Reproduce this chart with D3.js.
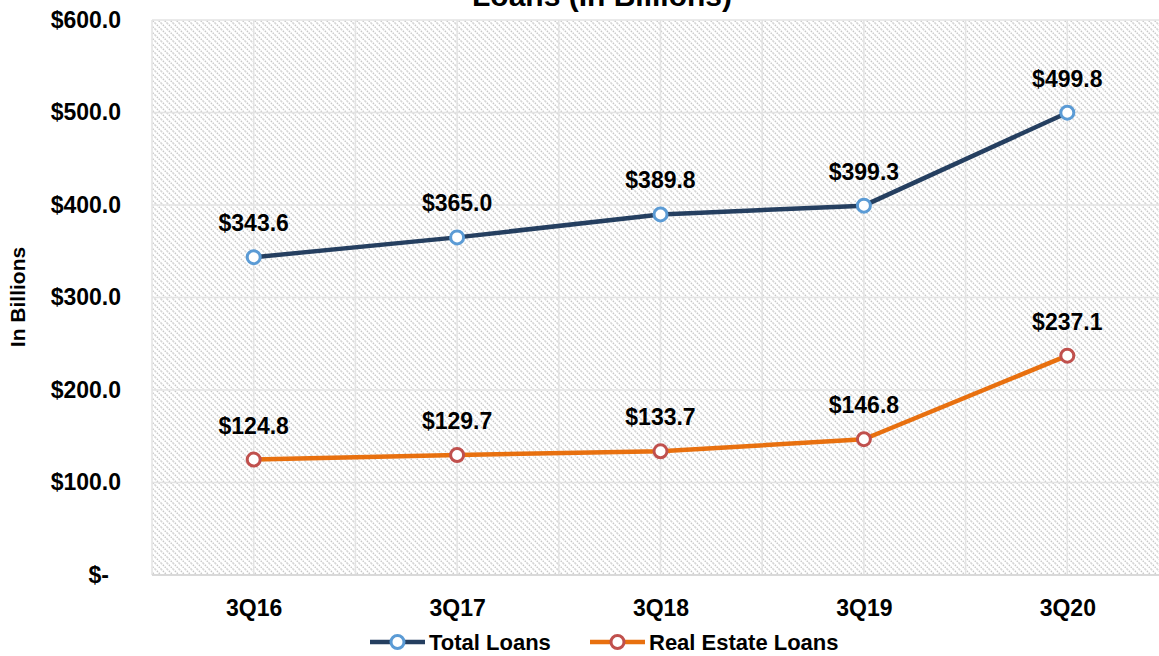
<!DOCTYPE html>
<html>
<head>
<meta charset="utf-8">
<script src="https://cdn.jsdelivr.net/npm/d3@7"></script>
<style>
  body { margin: 0; background: #fff; }
  svg { display: block; font-family: 'Liberation Sans', Arial, sans-serif; font-weight: bold; }
</style>
</head>
<body>
<svg></svg>
<script>
var width = 1159;
var height = 656;

var quarters = ['3Q16', '3Q17', '3Q18', '3Q19', '3Q20'];
var totalLoans = [343.6, 365.0, 389.8, 399.3, 499.8];
var realEstateLoans = [124.8, 129.7, 133.7, 146.8, 237.1];
var yTicks = [0, 100, 200, 300, 400, 500, 600];

var series = [
  { name: 'Total Loans', values: totalLoans, line: '#253F60', marker: '#5B9BD5' },
  { name: 'Real Estate Loans', values: realEstateLoans, line: '#E8700F', marker: '#C0504D' }
];

var plot = { left: 152, right: 1169, top: 20, bottom: 575 };

var svg = d3.select('svg')
    .attr('width', width)
    .attr('height', height);

// hatch fill like the excel plot area
var defs = svg.append('defs');
var pat = defs.append('pattern')
    .attr('id', 'hatch')
    .attr('patternUnits', 'userSpaceOnUse')
    .attr('width', 6)
    .attr('height', 6);
pat.append('path')
    .attr('d', 'M-1,-1 L7,7 M-1,5 L1,7 M5,-1 L7,1')
    .attr('stroke', '#c8c8c8')
    .attr('stroke-width', 1.4)
    .attr('stroke-dasharray', '1.6,1');

var x = d3.scalePoint()
    .domain(quarters)
    .range([plot.left, plot.right])
    .padding(0.5);

var y = d3.scaleLinear()
    .domain([0, 600])
    .range([plot.bottom, plot.top]);

svg.append('rect')
    .attr('x', plot.left)
    .attr('y', plot.top)
    .attr('width', plot.right - plot.left)
    .attr('height', plot.bottom - plot.top)
    .attr('fill', 'url(#hatch)');

// gridlines
var step = x.step() / 2;
var vLines = d3.range(plot.left, plot.right + 1, step);
svg.append('g')
    .selectAll('line')
    .data(vLines)
    .enter().append('line')
    .attr('x1', function(d) { return d; })
    .attr('x2', function(d) { return d; })
    .attr('y1', plot.top)
    .attr('y2', plot.bottom)
    .attr('stroke', '#e3e3e3')
    .attr('stroke-width', 1.5);

svg.append('g')
    .selectAll('line')
    .data(yTicks)
    .enter().append('line')
    .attr('x1', plot.left)
    .attr('x2', plot.right)
    .attr('y1', function(d) { return y(d); })
    .attr('y2', function(d) { return y(d); })
    .attr('stroke', function(d) { return d === 0 ? '#d9d9d9' : '#e3e3e3'; })
    .attr('stroke-width', function(d) { return d === 0 ? 2 : 1.5; });

// y axis labels
var yAxis = d3.axisLeft(y)
    .tickValues(yTicks)
    .tickSize(0)
    .tickPadding(0)
    .tickFormat(function(d) { return d === 0 ? '$-' : '$' + d3.format('.1f')(d); });

var yg = svg.append('g')
    .attr('transform', 'translate(121,0)')
    .call(yAxis);
yg.select('.domain').remove();
yg.selectAll('text')
    .attr('font-size', 23)
    .attr('font-family', "'Liberation Sans', Arial, sans-serif")
    .attr('font-weight', 'bold')
    .attr('fill', '#000')
    .attr('dx', function(d) { return d === 0 ? -12 : 0; });

// x axis labels
var xAxis = d3.axisBottom(x).tickSize(0).tickPadding(0);
var xg = svg.append('g')
    .attr('transform', 'translate(0,' + 602 + ')')
    .call(xAxis);
xg.select('.domain').remove();
xg.selectAll('text')
    .attr('font-size', 23)
    .attr('font-family', "'Liberation Sans', Arial, sans-serif")
    .attr('font-weight', 'bold')
    .attr('fill', '#000')
    .attr('dy', '0.6em');

// axis title
svg.append('text')
    .attr('transform', 'translate(25,' + 297 + ') rotate(-90)')
    .attr('text-anchor', 'middle')
    .attr('font-size', 21)
    .text('In Billions');

// chart title (cut off at top, as in the source)
svg.append('text')
    .attr('x', 602)
    .attr('y', 6)
    .attr('text-anchor', 'middle')
    .attr('font-size', 30)
    .text('Loans (In Billions)');

// lines
var line = d3.line()
    .x(function(d, i) { return x(quarters[i]); })
    .y(function(d) { return y(d); });

series.forEach(function(s) {
  var g = svg.append('g');
  g.append('path')
      .datum(s.values)
      .attr('d', line)
      .attr('fill', 'none')
      .attr('stroke', s.line)
      .attr('stroke-width', 4.5)
      .attr('stroke-linejoin', 'round');

  g.selectAll('circle')
      .data(s.values)
      .enter().append('circle')
      .attr('cx', function(d, i) { return x(quarters[i]); })
      .attr('cy', function(d) { return y(d); })
      .attr('r', 6.5)
      .attr('fill', '#fff')
      .attr('stroke', s.marker)
      .attr('stroke-width', 3);

  g.selectAll('text')
      .data(s.values)
      .enter().append('text')
      .attr('x', function(d, i) { return x(quarters[i]); })
      .attr('y', function(d) { return y(d) - 26; })
      .attr('text-anchor', 'middle')
      .attr('font-size', 23)
      .text(function(d) { return '$' + d3.format('.1f')(d); });
});

// legend
var legendX = [370, 590];
var legend = svg.append('g')
    .selectAll('g')
    .data(series)
    .enter().append('g')
    .attr('transform', function(d, i) { return 'translate(' + legendX[i] + ',642)'; });

legend.append('line')
    .attr('x1', 0)
    .attr('x2', 55)
    .attr('stroke', function(d) { return d.line; })
    .attr('stroke-width', 4.5);
legend.append('circle')
    .attr('cx', 27.5)
    .attr('r', 6.5)
    .attr('fill', '#fff')
    .attr('stroke', function(d) { return d.marker; })
    .attr('stroke-width', 3);
legend.append('text')
    .attr('x', 59)
    .attr('dy', '0.36em')
    .attr('font-size', 22)
    .text(function(d) { return d.name; });
</script>
</body>
</html>
